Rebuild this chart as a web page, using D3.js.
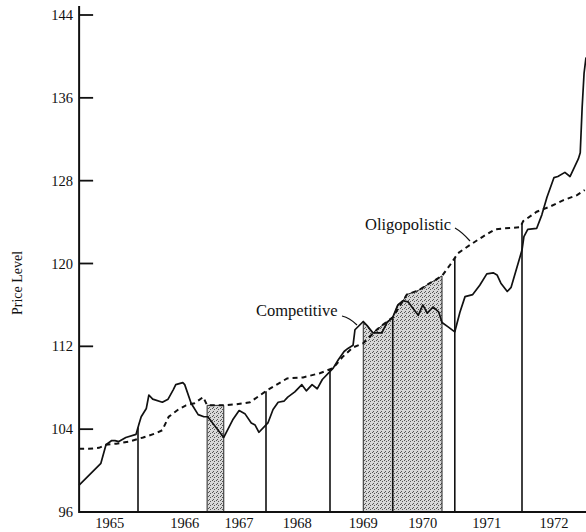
<!DOCTYPE html>
<html>
<head>
<meta charset="utf-8">
<script src="https://cdn.jsdelivr.net/npm/d3@7"></script>
<style>
  body { margin: 0; background: #fff; }
  text { font-family: "Liberation Serif", "Times New Roman", serif; fill: #111; }
</style>
</head>
<body>
<div id="chart"></div>
<script>
// ---- DATA ------------------------------------------------------------

// competitive price level (time in fractional years)
var compT = [1965.08, 1965.42, 1965.50, 1965.59, 1965.64, 1965.70, 1965.81, 1965.97, 1966.02, 1966.05,
  1966.13, 1966.17, 1966.23, 1966.38, 1966.47, 1966.55, 1966.59, 1966.70, 1966.73, 1966.83,
  1966.94, 1967.03, 1967.09, 1967.34, 1967.48, 1967.58, 1967.67, 1967.77, 1967.83, 1967.89,
  1968.03, 1968.11, 1968.19, 1968.28, 1968.34, 1968.45, 1968.56, 1968.63, 1968.72, 1968.80,
  1968.88, 1969.05, 1969.13, 1969.22, 1969.28, 1969.36, 1969.39, 1969.52, 1969.58, 1969.67,
  1969.81, 1969.89, 1969.98, 1970.06, 1970.14, 1970.22, 1970.28, 1970.38, 1970.45, 1970.52,
  1970.61, 1970.70, 1970.75, 1970.84, 1970.95, 1971.03, 1971.11, 1971.23, 1971.34, 1971.45,
  1971.55, 1971.61, 1971.67, 1971.77, 1971.83, 1972.00, 1972.03, 1972.09, 1972.23, 1972.31,
  1972.39, 1972.50, 1972.56, 1972.67, 1972.75, 1972.88, 1972.91, 1972.94, 1972.97, 1973.00];
var compV = [98.6, 100.7, 102.5, 102.9, 102.9, 102.8, 103.2, 103.5, 104.6, 105.2,
  106.0, 107.3, 106.9, 106.6, 106.9, 107.8, 108.3, 108.5, 108.3, 106.5,
  105.4, 105.2, 105.2, 103.2, 104.9, 105.8, 105.5, 104.6, 104.4, 103.7,
  104.6, 105.9, 106.6, 106.7, 107.1, 107.6, 108.3, 107.7, 108.3, 107.9,
  108.8, 109.9, 110.7, 111.5, 111.8, 112.1, 113.6, 114.4, 114.0, 113.3,
  113.3, 114.3, 114.8, 116.0, 116.4, 116.3, 115.8, 115.0, 116.0, 115.2,
  115.8, 115.3, 114.3, 113.9, 113.4, 115.3, 116.8, 117.0, 117.9, 119.0,
  119.1, 118.9, 118.1, 117.3, 117.7, 121.3, 122.6, 123.3, 123.4, 124.7,
  126.4, 128.3, 128.4, 128.8, 128.4, 130.1, 130.7, 135.1, 138.4, 139.9];

// oligopolistic price level
var oligT = [1965.08, 1965.23, 1965.39, 1965.50, 1965.66, 1965.86, 1966.08, 1966.28, 1966.38, 1966.48,
  1966.63, 1966.75, 1966.88, 1967.02, 1967.08, 1967.34, 1967.53, 1967.75, 1968.03, 1968.33,
  1968.58, 1968.84, 1969.05, 1969.20, 1969.36, 1969.52, 1969.73, 1969.83, 1969.98, 1970.20,
  1970.38, 1970.56, 1970.75, 1970.88, 1971.00, 1971.19, 1971.39, 1971.58, 1971.73, 1971.97,
  1972.02, 1972.23, 1972.44, 1972.64, 1972.86, 1972.98];
var oligV = [102.1, 102.1, 102.2, 102.5, 102.6, 102.8, 103.2, 103.6, 103.9, 105.2,
  105.9, 106.3, 106.5, 107.1, 106.3, 106.3, 106.4, 106.6, 107.8, 108.9,
  109.0, 109.4, 109.9, 111.0, 111.9, 112.3, 113.6, 114.1, 114.8, 117.0,
  117.4, 118.1, 118.8, 119.9, 121.0, 121.8, 122.6, 123.3, 123.4, 123.5,
  124.1, 125.0, 125.5, 126.1, 126.6, 127.1];

// shaded periods and vertical markers
var shadeStart = [1967.08, 1969.52];
var shadeEnd = [1967.34, 1970.75];
var markerT = [1966.0, 1968.0, 1969.0, 1969.98, 1970.95, 1972.0];

// axis labels
var yTicks = [96, 104, 112, 120, 128, 136, 144];
var yearLabels = ["1965", "1966", "1967", "1968", "1969", "1970", "1971", "1972"];
var yearPos = [1965.56, 1966.73, 1967.58, 1968.49, 1969.52, 1970.45, 1971.45, 1972.50];

// ---- VARIABLES -------------------------------------------------------

var w = 586;
var h = 532;

var xScale = d3.scaleLinear().domain([1965, 1973]).range([74, 586]);
var yScale = d3.scaleLinear().domain([96, 144]).range([512, 15]);

var comp = compT.map(function(t, i) { return [t, compV[i]]; });
var olig = oligT.map(function(t, i) { return [t, oligV[i]]; });

// linear interpolation of a series at time t
function valAt(ts, vs, t) {
  var i = d3.bisectLeft(ts, t);
  if (i <= 0) return vs[0];
  if (i >= ts.length) return vs[vs.length - 1];
  var k = (t - ts[i - 1]) / (ts[i] - ts[i - 1]);
  return vs[i - 1] + k * (vs[i] - vs[i - 1]);
}
function topAt(t) {
  return Math.max(valAt(compT, compV, t), valAt(oligT, oligV, t));
}

// ---- BUILD -----------------------------------------------------------

var svg = d3.select("#chart")
  .append("svg")
  .attr("width", w)
  .attr("height", h);

// stipple pattern for the shaded periods
var pat = svg.append("defs").append("pattern")
  .attr("id", "stip")
  .attr("width", 4)
  .attr("height", 4)
  .attr("patternUnits", "userSpaceOnUse");
pat.append("rect").attr("width", 4).attr("height", 4).attr("fill", "#d8d8d8");
[[0, 0], [2, 1], [1, 3]].forEach(function(p) {
  pat.append("rect").attr("x", p[0]).attr("y", p[1])
    .attr("width", 1).attr("height", 1).attr("fill", "#555");
});

// shaded areas up to the upper of the two curves
var area = d3.area()
  .x(function(d) { return xScale(d); })
  .y0(yScale(96))
  .y1(function(d) { return yScale(topAt(d)); });

shadeStart.forEach(function(a, i) {
  var b = shadeEnd[i];
  var ts = compT.concat(oligT).filter(function(t) { return t > a && t < b; });
  ts = [a].concat(ts, [b]).sort(d3.ascending);
  svg.append("path")
    .attr("d", area(ts))
    .attr("fill", "url(#stip)")
    .attr("stroke", "#222")
    .attr("stroke-width", 1);
});

// vertical markers
svg.selectAll(".marker")
  .data(markerT)
  .enter()
  .append("line")
  .attr("class", "marker")
  .attr("x1", function(d) { return xScale(d); })
  .attr("x2", function(d) { return xScale(d); })
  .attr("y1", yScale(96))
  .attr("y2", function(d) { return yScale(topAt(d)); })
  .attr("stroke", "#111")
  .attr("stroke-width", 1.6);

var line = d3.line()
  .x(function(d) { return xScale(d[0]); })
  .y(function(d) { return yScale(d[1]); });

svg.append("path")
  .attr("d", line(olig))
  .attr("fill", "none")
  .attr("stroke", "#111")
  .attr("stroke-width", 2)
  .attr("stroke-dasharray", "5,4");

svg.append("path")
  .attr("d", line(comp))
  .attr("fill", "none")
  .attr("stroke", "#111")
  .attr("stroke-width", 1.7)
  .attr("stroke-linejoin", "round");

// axes
var x0 = xScale(1965.08);
svg.append("line")
  .attr("x1", x0).attr("x2", x0)
  .attr("y1", 6).attr("y2", yScale(96) + 1)
  .attr("stroke", "#111").attr("stroke-width", 2);
svg.append("line")
  .attr("x1", x0).attr("x2", w)
  .attr("y1", yScale(96)).attr("y2", yScale(96))
  .attr("stroke", "#111").attr("stroke-width", 2);

svg.selectAll(".ytick")
  .data(yTicks.slice(1))
  .enter()
  .append("line")
  .attr("x1", x0).attr("x2", x0 + 14)
  .attr("y1", function(d) { return yScale(d); })
  .attr("y2", function(d) { return yScale(d); })
  .attr("stroke", "#111").attr("stroke-width", 1.8);

svg.selectAll(".ylab")
  .data(yTicks)
  .enter()
  .append("text")
  .attr("x", 73)
  .attr("y", function(d) { return yScale(d) + 5; })
  .attr("text-anchor", "end")
  .attr("font-size", "14.5px")
  .text(function(d) { return d; });

svg.selectAll(".xlab")
  .data(yearLabels)
  .enter()
  .append("text")
  .attr("x", function(d, i) { return xScale(yearPos[i]); })
  .attr("y", 528)
  .attr("text-anchor", "middle")
  .attr("font-size", "14.5px")
  .text(function(d) { return d; });

svg.append("text")
  .attr("transform", "translate(22,283) rotate(-90)")
  .attr("text-anchor", "middle")
  .attr("font-size", "14px")
  .text("Price Level");

// annotations
svg.append("text")
  .attr("x", 256).attr("y", 316)
  .attr("font-size", "16.5px")
  .text("Competitive");
svg.append("path")
  .attr("d", "M342,316 Q350,318 357,325")
  .attr("fill", "none").attr("stroke", "#111").attr("stroke-width", 1.2);

svg.append("text")
  .attr("x", 365).attr("y", 230)
  .attr("font-size", "16.5px")
  .text("Oligopolistic");
svg.append("path")
  .attr("d", "M455,228 Q462,232 470,241")
  .attr("fill", "none").attr("stroke", "#111").attr("stroke-width", 1.2);
</script>
</body>
</html>
